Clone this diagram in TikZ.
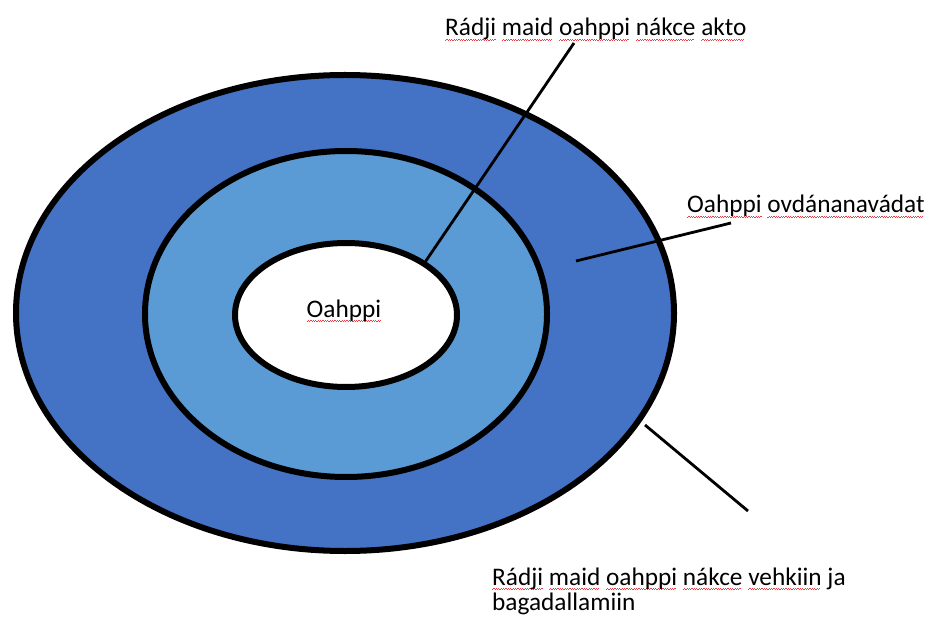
\documentclass[tikz,border=0pt]{standalone}
\usepackage{fontspec}
\setmainfont{Carlito}
\usetikzlibrary{shapes.geometric}
\definecolor{outerblue}{HTML}{4472C4}
\definecolor{midblue}{HTML}{5B9BD5}
\definecolor{spellred}{HTML}{F03C46}
\newsavebox\sqbox
\newcommand\sqw[1]{\sbox\sqbox{#1}\rlap{\textcolor{spellred}{\leaders\hbox{\rule[-5.0pt]{1.2pt}{1pt}\rule[-4.0pt]{1.2pt}{1pt}}\hskip\wd\sqbox}}\usebox\sqbox}
\tikzset{
  ring/.style={ellipse, draw=black, line width=6pt, inner sep=0pt},
  lbl/.style={inner sep=0pt, font=\fontsize{25.3}{28}\selectfont, text=black},
  leader/.style={draw=black, line width=2.8pt}
}
\begin{document}
\begin{tikzpicture}[x=1pt, y=-1pt]
\useasboundingbox (0,0) rectangle (928,617);
\node[ring, fill=outerblue, minimum width=658pt, minimum height=476pt] (outer) at (345,313) {};
\node[ring, fill=midblue, minimum width=402pt, minimum height=326pt] (middle) at (346,314) {};
\node[ring, fill=white, minimum width=222pt, minimum height=144pt] (inner) at (346,315) {};
\node[lbl, anchor=base] (core) at (344,317) {\sqw{Oahppi}};
\node[lbl, anchor=base west] (t1) at (445,36) {\sqw{Rádji} \sqw{maid} \sqw{oahppi} \sqw{nákce} \sqw{akto}};
\node[lbl, anchor=base west] (t2) at (687,213) {\sqw{Oahppi} \sqw{ovdánanavádat}};
\node[lbl, anchor=base west] (t3a) at (492,585) {\sqw{Rádji} \sqw{maid} \sqw{oahppi} \sqw{nákce} \sqw{vehkiin} ja};
\node[lbl, anchor=base west] (t3b) at (492,610) {bagadallamiin};
\coordinate (e1) at (574,43);
\coordinate (s2) at (576,261);
\coordinate (e2) at (731,223);
\coordinate (s3) at (645,425);
\coordinate (e3) at (748,511);
\draw[leader] (inner.34) -- (e1);
\draw[leader] (s2) -- (e2);
\draw[leader] (s3) -- (e3);
\end{tikzpicture}
\end{document}
